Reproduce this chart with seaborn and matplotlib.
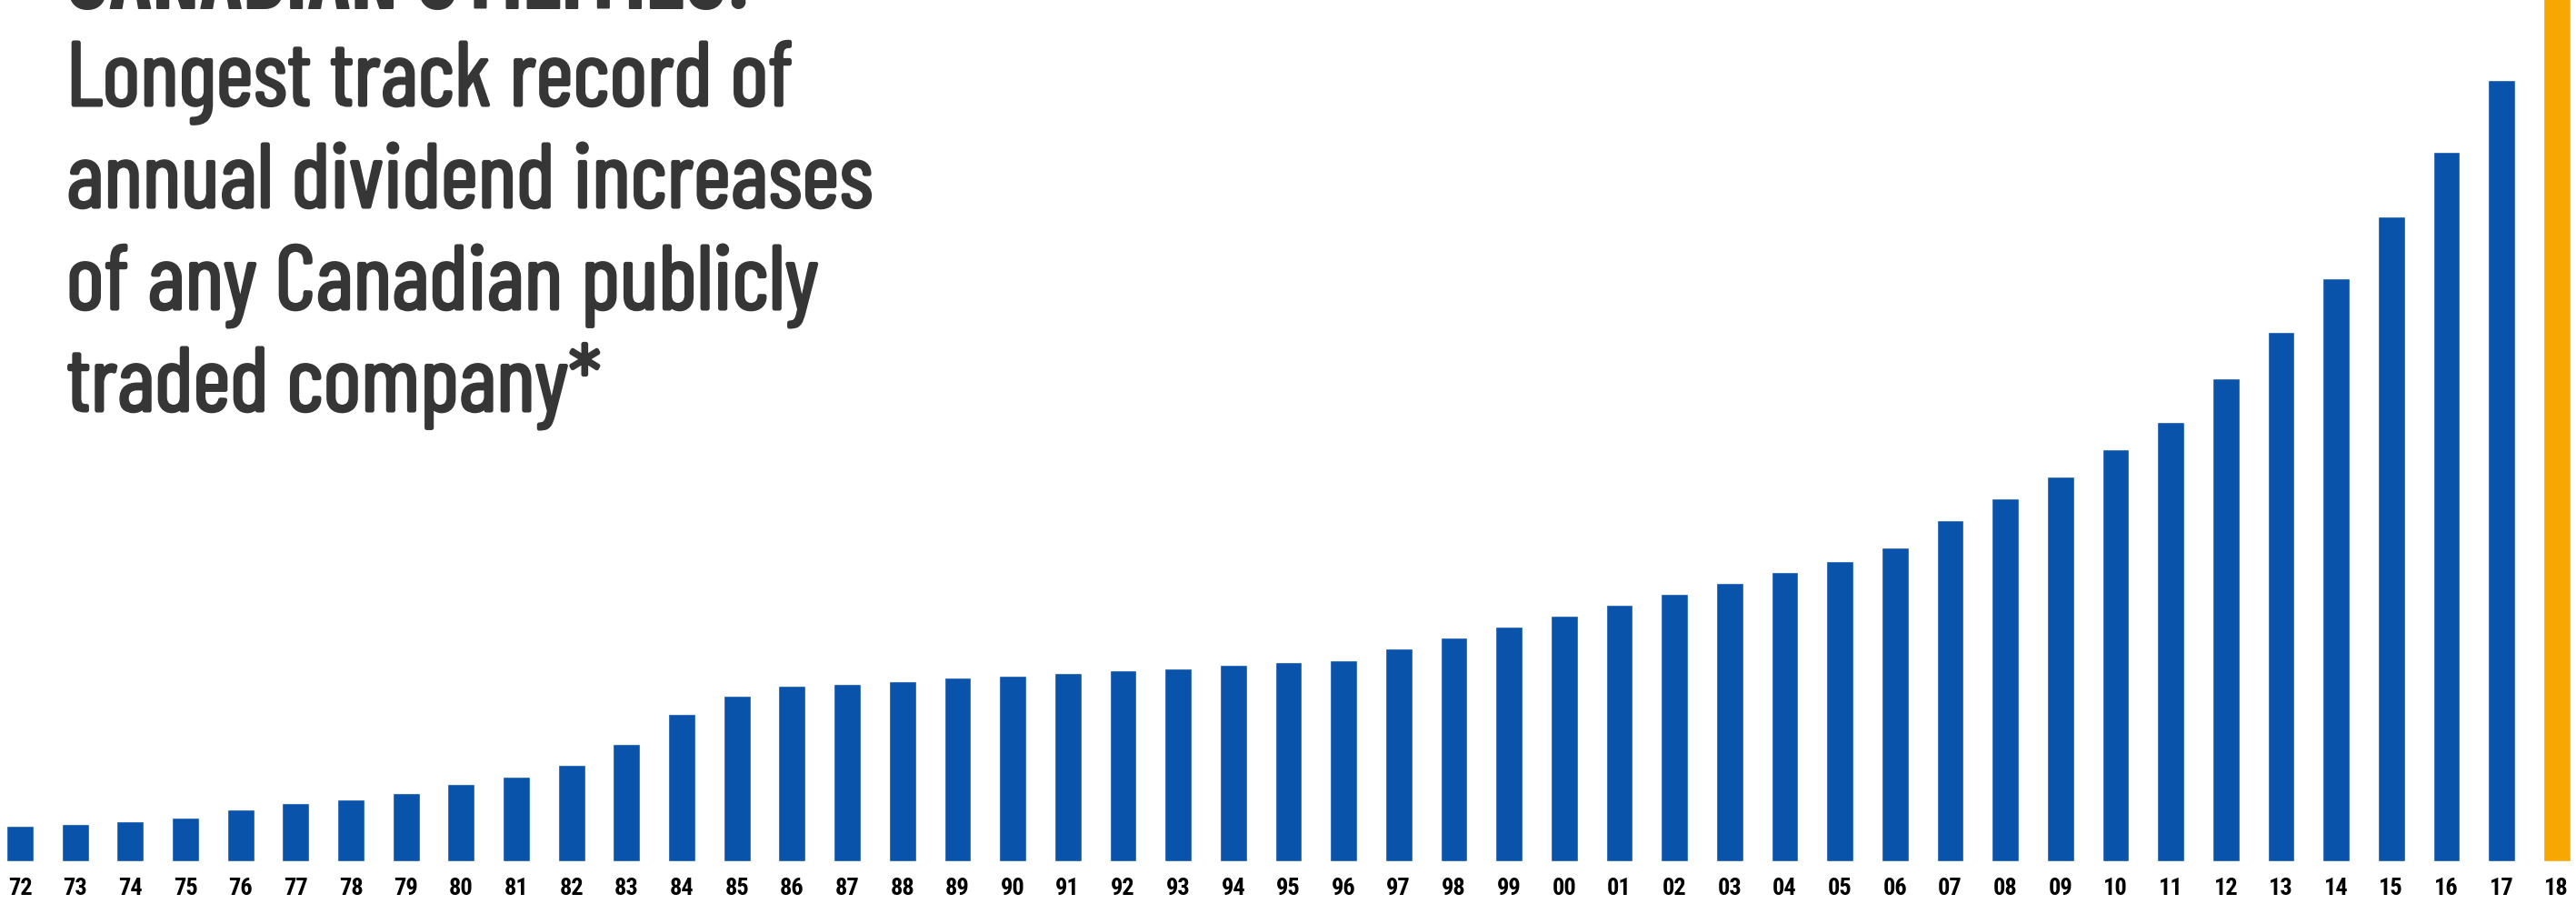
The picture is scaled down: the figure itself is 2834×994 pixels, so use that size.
import matplotlib
matplotlib.use("Agg")
import matplotlib.pyplot as plt
import matplotlib.patheffects as pe
import seaborn as sns
import pandas as pd

years = ["72", "73", "74", "75", "76", "77", "78", "79", "80", "81",
         "82", "83", "84", "85", "86", "87", "88", "89", "90", "91",
         "92", "93", "94", "95", "96", "97", "98", "99", "00", "01",
         "02", "03", "04", "05", "06", "07", "08", "09", "10", "11",
         "12", "13", "14", "15", "16", "17", "18"]
values = [39, 41, 44, 48, 57, 64, 68, 75, 85, 93,
          106, 129, 162, 182, 193, 195, 198, 202, 204, 207,
          210, 212, 216, 219, 221, 234, 246, 258, 270, 282,
          294, 306, 318, 330, 345, 375, 399, 423, 453, 483,
          531, 582, 641, 709, 780, 859, 960]
highlight_year = "18"
headline = "CANADIAN UTILITIES:"
subtitle_lines = ["Longest track record of",
                  "annual dividend increases",
                  "of any Canadian publicly",
                  "traded company*"]

BLUE = "#0A53AB"
ORANGE = "#F6A700"
TEXT_GRAY = "#363636"
TITLE_FONT = ["Barlow Condensed", "DejaVu Sans"]
TICK_FONT = ["Roboto Condensed", "Encode Sans Condensed", "Asap Condensed", "DejaVu Sans"]

sns.set_theme(style="white")
plt.rcParams["font.family"] = ["DejaVu Sans"]

fig = plt.figure(figsize=(28.34, 9.95), dpi=100)
ax = fig.add_axes([0, 47 / 995, 1, 948 / 995])

df = pd.DataFrame({"year": years, "value": values})
df["kind"] = ["highlight" if y == highlight_year else "regular" for y in years]
sns.barplot(data=df, x="year", y="value", hue="kind",
            palette={"regular": BLUE, "highlight": ORANGE},
            width=0.49, dodge=False, legend=False, ax=ax, saturation=1)

ax.set_xlim(-0.3626, 46.35)
ax.set_ylim(0, 948)
for s in ax.spines.values():
    s.set_visible(False)
ax.set_yticks([])
ax.set_xlabel("")
ax.set_ylabel("")
ax.tick_params(axis="x", length=0, pad=12)
for lab in ax.get_xticklabels():
    lab.set_family(TICK_FONT)
    lab.set_fontsize(19)
    lab.set_fontweight("bold")
    lab.set_color("black")

thick = [pe.withStroke(linewidth=2.2, foreground=TEXT_GRAY)]
fig.text(73 / 2834, 1 - 10 / 995, headline, fontsize=72, fontweight="bold",
         color=TEXT_GRAY, va="baseline", ha="left", family=TITLE_FONT)
for i, line in enumerate(subtitle_lines):
    fig.text(73 / 2834, 1 - (117 + 112 * i) / 995, line, fontsize=72,
             fontweight="normal", color=TEXT_GRAY, va="baseline", ha="left",
             family=TITLE_FONT, path_effects=thick)

fig.savefig("out.png", dpi=100, facecolor="white")
